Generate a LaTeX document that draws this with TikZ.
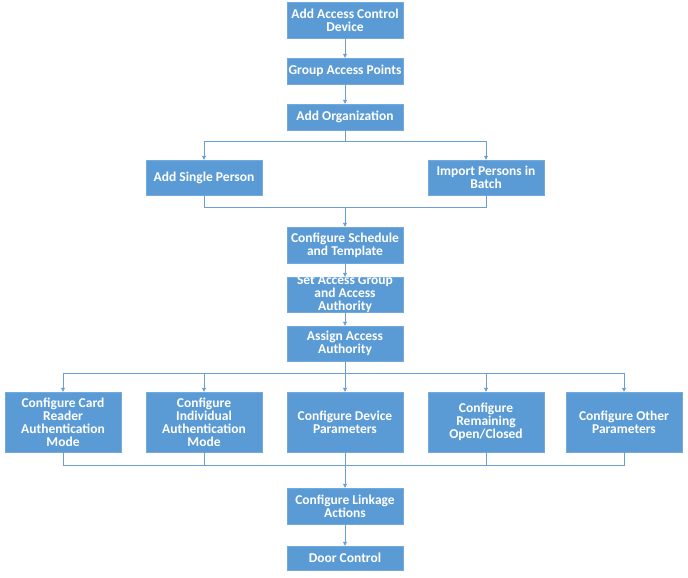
\documentclass[tikz,border=0pt]{standalone}
\usepackage{fontspec}
\setmainfont{Carlito}
\usetikzlibrary{positioning,arrows.meta}
\definecolor{boxblue}{HTML}{5B9BD5}
\definecolor{lineblue}{HTML}{6A9FD6}

\begin{document}
\begin{tikzpicture}[x=1pt,y=-1pt,node distance=141pt,on grid,
  box/.style={rectangle,fill=boxblue,draw=boxblue!85!white,text=white,
    font=\bfseries\fontsize{13.5}{13}\selectfont,align=center,
    minimum width=116pt,inner sep=0pt},
  flow/.style={lineblue,line width=0.8pt},
  arr/.style={flow,-{Triangle[length=4pt,width=4pt]}}]
	\useasboundingbox (0,0) rectangle (688,578);
	% main column
	\node[box,minimum height=36pt] (device) at (345,20) {Add Access Control\\Device};
	\node[box,minimum height=26pt] (group) [below=51pt of device] {Group Access Points};
	\node[box,minimum height=26pt] (org) [below=46pt of group] {Add Organization};
	\node[box,minimum height=35pt] (single) at (204,177.5) {Add Single Person};
	\node[box,minimum height=35pt] (batch) [right=282pt of single] {Import Persons in\\Batch};
	\node[box,minimum height=36pt] (sched) at (345,245) {Configure Schedule\\and Template};
	\node[box,minimum height=35pt,inner ysep=-2.5pt] (accgroup) [below=49.5pt of sched] {Set Access Group\\and Access\\Authority};
	\node[box,minimum height=35pt] (assign) [below=49pt of accgroup] {Assign Access\\Authority};
	% second row
	\node[box,minimum height=60pt] (cardmode) at (63,422) {Configure Card\\Reader\\Authentication\\Mode};
	\node[box,minimum height=60pt] (indmode) [right=of cardmode] {Configure\\Individual\\Authentication\\Mode};
	\node[box,minimum height=60pt] (devparam) [right=of indmode] {Configure Device\\Parameters};
	\node[box,minimum height=60pt] (remain) [right=of devparam] {Configure\\Remaining\\Open/Closed};
	\node[box,minimum height=60pt] (other) [right=138pt of remain] {Configure Other\\Parameters};
	\node[box,minimum height=36pt] (linkage) at (345,506) {Configure Linkage\\Actions};
	\node[box,minimum height=24pt] (door) [below=52pt of linkage] {Door Control};
	% connectors
	\draw[arr] (device) -- (group);
	\draw[arr] (group) -- (org);
	\coordinate (split1) at (345,141);
	\draw[flow] (org) -- (split1);
	\draw[arr] (split1) -| (single);
	\draw[arr] (split1) -| (batch);
	\coordinate (join1) at (345,207);
	\draw[flow] (single) |- (join1);
	\draw[flow] (batch) |- (join1);
	\draw[arr] (join1) -- (sched);
	\draw[arr] (sched) -- (accgroup);
	\draw[arr] (accgroup) -- (assign);
	\coordinate (split2) at (345,373);
	\draw[flow] (assign) -- (split2);
	\foreach \n in {cardmode,indmode,devparam,remain,other}
	  \draw[arr] (split2) -| (\n);
	\coordinate (join2) at (345,465);
	\foreach \n in {cardmode,indmode,devparam,remain,other}
	  \draw[flow] (\n) |- (join2);
	\draw[arr] (join2) -- (linkage);
	\draw[arr] (linkage) -- (door);
\end{tikzpicture}
\end{document}
